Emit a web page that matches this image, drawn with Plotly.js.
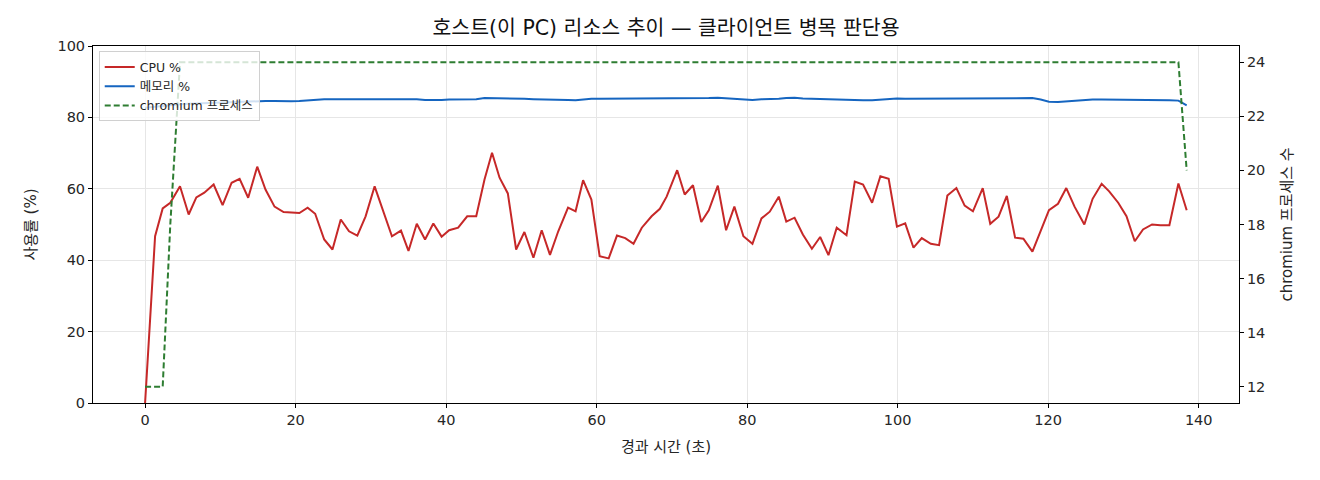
<!DOCTYPE html>
<html>
<head>
<meta charset="utf-8">
<script src="https://cdn.plot.ly/plotly-3.0.1.min.js"></script>
<style>
    html, body { margin: 0; padding: 0; background: #fff; }
    #plot { width: 1320px; height: 480px; }
</style>
</head>
<body>
<div id="plot"></div>
<script>
// elapsed seconds of each sample
const elapsed = [
    0, 1.33, 2.34, 3.35, 4.64, 5.79, 6.81, 7.87, 9.11, 10.3,
    11.5, 12.56, 13.7, 14.9, 16.0, 17.2, 18.4, 19.4, 20.5, 21.6,
    22.6, 23.8, 24.9, 26.0, 27.1, 28.2, 29.3, 30.5, 31.7, 32.8,
    34.0, 35.0, 36.1, 37.2, 38.3, 39.4, 40.4, 41.6, 42.8, 44.0,
    45.1, 46.1, 47.1, 48.2, 49.3, 50.4, 51.6, 52.7, 53.8, 54.9,
    56.2, 57.2, 58.2, 59.3, 60.4, 61.6, 62.7, 63.8, 64.9, 66.0,
    67.3, 68.4, 69.3, 70.7, 71.7, 72.8, 73.9, 74.9, 76.1, 77.2,
    78.3, 79.5, 80.7, 81.9, 83.0, 84.2, 85.2, 86.3, 87.4, 88.6,
    89.7, 90.8, 91.9, 93.2, 94.3, 95.4, 96.6, 97.7, 98.8, 99.9,
    101.0, 102.1, 103.2, 104.4, 105.5, 106.6, 107.8, 108.9, 110.0, 111.3,
    112.3, 113.4, 114.5, 115.6, 116.7, 117.9, 119.0, 120.1, 121.3, 122.4,
    123.5, 124.8, 125.9, 127.1, 128.1, 129.3, 130.4, 131.5, 132.6, 133.8,
    134.9, 136.1, 137.3, 138.4
];

const cpuPct = [
    0, 46.7, 54.5, 56.1, 60.7, 52.8, 57.6, 58.9, 61.2, 55.4,
    61.7, 62.8, 57.5, 66.2, 59.8, 55.0, 53.5, 53.4, 53.2, 54.7,
    53.0, 45.8, 43.0, 51.4, 48.1, 46.9, 52.3, 60.7, 53.7, 46.7,
    48.3, 42.6, 50.2, 45.8, 50.3, 46.6, 48.4, 49.1, 52.3, 52.3,
    62.6, 70.1, 63.1, 58.7, 43.0, 47.9, 40.7, 48.4, 41.5, 48.1,
    54.7, 53.7, 62.4, 57.0, 41.1, 40.5, 46.9, 46.2, 44.6, 49.1,
    52.3, 54.4, 57.8, 65.2, 58.4, 61.0, 50.7, 54.0, 60.9, 48.4,
    55.0, 46.7, 44.6, 51.7, 53.6, 57.8, 50.8, 51.9, 47.2, 43.2,
    46.5, 41.4, 49.1, 47.0, 62.0, 61.2, 56.1, 63.5, 62.8, 49.4,
    50.3, 43.5, 46.2, 44.6, 44.2, 58.1, 60.2, 55.3, 53.7, 60.2,
    50.2, 52.2, 58.0, 46.3, 46.0, 42.4, 48.2, 54.0, 55.8, 60.2,
    55.0, 50.0, 57.2, 61.4, 59.3, 56.1, 52.3, 45.3, 48.6, 50.0,
    49.8, 49.8, 61.5, 54.0
];

const memPct = [
    82.7, 83.0, 83.3, 83.5, 83.7, 83.8, 83.9, 84.0, 84.1, 84.2,
    84.3, 84.3, 84.4, 84.5, 84.6, 84.6, 84.5, 84.5, 84.6, 84.8,
    85.0, 85.1, 85.1, 85.1, 85.1, 85.0, 85.0, 85.0, 85.1, 85.1,
    85.1, 85.2, 85.1, 84.9, 84.8, 84.9, 85.0, 85.0, 85.0, 85.1,
    85.4, 85.4, 85.3, 85.2, 85.2, 85.2, 85.1, 85.1, 85.1, 85.0,
    84.9, 84.8, 85.0, 85.2, 85.2, 85.2, 85.2, 85.2, 85.2, 85.2,
    85.2, 85.2, 85.2, 85.4, 85.4, 85.4, 85.4, 85.4, 85.5, 85.4,
    85.2, 85.0, 84.9, 85.1, 85.1, 85.2, 85.4, 85.5, 85.3, 85.2,
    85.1, 85.1, 85.1, 85.0, 84.8, 84.8, 84.8, 85.0, 85.3, 85.3,
    85.2, 85.2, 85.2, 85.2, 85.2, 85.2, 85.2, 85.2, 85.3, 85.2,
    85.2, 85.3, 85.3, 85.4, 85.4, 85.4, 85.0, 84.4, 84.3, 84.5,
    84.7, 84.9, 85.0, 85.0, 85.0, 85.0, 85.0, 85.0, 85.0, 85.0,
    85.0, 84.8, 84.7, 83.4
];

const chromiumCount = [
    12, 12, 12, 18, 24, 24, 24, 24, 24, 24,
    24, 24, 24, 24, 24, 24, 24, 24, 24, 24,
    24, 24, 24, 24, 24, 24, 24, 24, 24, 24,
    24, 24, 24, 24, 24, 24, 24, 24, 24, 24,
    24, 24, 24, 24, 24, 24, 24, 24, 24, 24,
    24, 24, 24, 24, 24, 24, 24, 24, 24, 24,
    24, 24, 24, 24, 24, 24, 24, 24, 24, 24,
    24, 24, 24, 24, 24, 24, 24, 24, 24, 24,
    24, 24, 24, 24, 24, 24, 24, 24, 24, 24,
    24, 24, 24, 24, 24, 24, 24, 24, 24, 24,
    24, 24, 24, 24, 24, 24, 24, 24, 24, 24,
    24, 24, 24, 24, 24, 24, 24, 24, 24, 24,
    24, 24, 24, 20
];

const xTicks = [0, 20, 40, 60, 80, 100, 120, 140];
const yTicks = [0, 20, 40, 60, 80, 100];
const y2Ticks = [12, 14, 16, 18, 20, 22, 24];

// latin glyphs from DejaVu, hangul falls back to Noto CJK
const font = "'DejaVu Sans', 'Noto Sans CJK KR', sans-serif";
const ink = "#262626";

const traces = [
    {
        x: elapsed,
        y: cpuPct,
        name: "CPU %",
        mode: "lines",
        line: { color: "#c62828", width: 2 },
        yaxis: "y"
    },
    {
        x: elapsed,
        y: memPct,
        name: "메모리 %",
        mode: "lines",
        line: { color: "#1565c0", width: 2 },
        yaxis: "y"
    },
    {
        x: elapsed,
        y: chromiumCount,
        name: "chromium 프로세스",
        mode: "lines",
        line: { color: "#2e7d32", width: 2, dash: "6px,3px" },
        yaxis: "y2"
    }
];

const layout = {
    width: 1320,
    height: 480,
    margin: { l: 93, r: 81, t: 46, b: 77 },
    paper_bgcolor: "#fff",
    plot_bgcolor: "#fff",
    font: { family: font, size: 15, color: ink },
    showlegend: true,
    title: {
        text: "호스트(이 PC) 리소스 추이 — 클라이언트 병목 판단용",
        font: { size: 20.5, color: "#111" },
        x: 0.5,
        xref: "paper",
        y: 1 - 28 / 480,
        yref: "container",
        yanchor: "middle"
    },
    legend: {
        x: 0.005,
        y: 0.985,
        xanchor: "left",
        yanchor: "top",
        bgcolor: "rgba(255,255,255,0.8)",
        bordercolor: "#d0d0d0",
        borderwidth: 1,
        font: { size: 12.5, color: ink },
        tracegroupgap: 0
    },
    xaxis: {
        range: [-6.92, 145.35],
        tickvals: xTicks,
        ticks: "outside",
        ticklen: 4,
        tickcolor: "#000",
        showline: true,
        linecolor: "#000",
        linewidth: 1,
        mirror: true,
        showgrid: true,
        gridcolor: "#e6e6e6",
        zeroline: false,
        tickfont: { size: 14.5 },
        title: { text: "경과 시간 (초)", font: { size: 15 }, standoff: 14 }
    },
    yaxis: {
        range: [0, 100],
        tickvals: yTicks,
        ticks: "outside",
        ticklen: 4,
        tickcolor: "#000",
        showline: true,
        linecolor: "#000",
        linewidth: 1,
        mirror: true,
        showgrid: true,
        gridcolor: "#e6e6e6",
        zeroline: false,
        tickfont: { size: 14.5 },
        title: { text: "사용률 (%)", font: { size: 15 }, standoff: 17 }
    },
    yaxis2: {
        overlaying: "y",
        side: "right",
        range: [11.4, 24.6],
        tickvals: y2Ticks,
        ticks: "outside",
        ticklen: 4,
        tickcolor: "#000",
        showline: true,
        linecolor: "#000",
        linewidth: 1,
        showgrid: false,
        zeroline: false,
        tickfont: { size: 14.5 },
        title: { text: "chromium 프로세스 수", font: { size: 15 }, standoff: 17 }
    }
};

Plotly.newPlot("plot", traces, layout, { staticPlot: true });
</script>
</body>
</html>
